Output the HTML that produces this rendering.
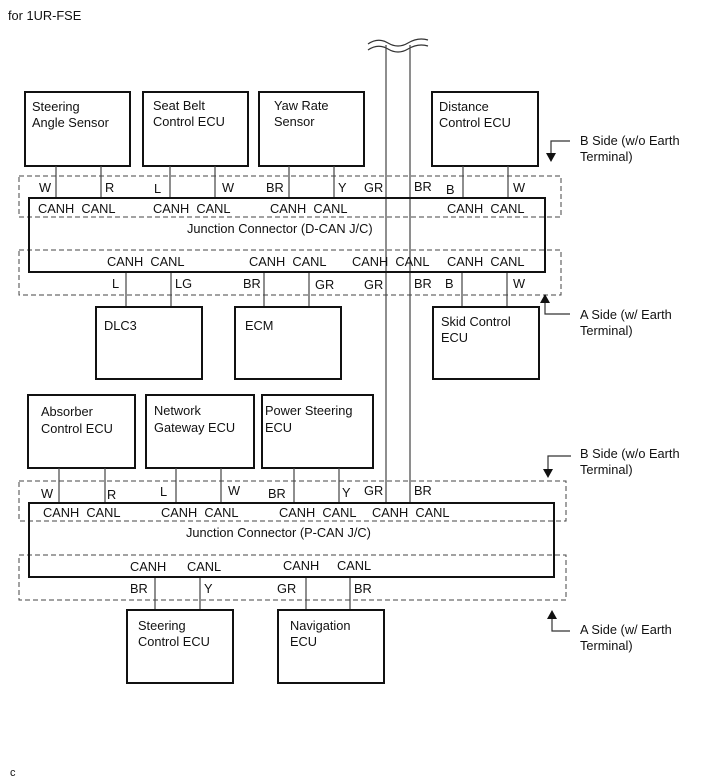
<!DOCTYPE html>
<html><head><meta charset="utf-8"><style>
body{margin:0;background:#fff}
svg{display:block}
text{font-family:"Liberation Sans",Arial,sans-serif;font-size:12.8px;fill:#111;white-space:pre}
.b{fill:none;stroke:#111;stroke-width:2}
.w{stroke:#444;stroke-width:1.2;fill:none}
.d{fill:none;stroke:#444;stroke-width:1;stroke-dasharray:5,3}
.a{fill:none;stroke:#333;stroke-width:1.2}
</style></head><body>
<svg width="713" height="782" viewBox="0 0 713 782">
<text x="8" y="20">for 1UR-FSE</text>
<text x="10" y="776" style="font-size:11px">c</text>
<path class="a" d="M368,44 q10,-7 20,-1 t20,0 t20,-3"/>
<path class="a" d="M368,50 q10,-7 20,-1 t20,0 t20,-3"/>
<line class="w" x1="386" y1="45" x2="386" y2="503"/>
<line class="w" x1="410" y1="45" x2="410" y2="503"/>
<rect class="b" x="25" y="92" width="105" height="74"/>
<text x="32" y="111">Steering</text><text x="32" y="127">Angle Sensor</text>
<rect class="b" x="143" y="92" width="105" height="74"/>
<text x="153" y="110">Seat Belt</text><text x="153" y="126">Control ECU</text>
<rect class="b" x="259" y="92" width="105" height="74"/>
<text x="274" y="110">Yaw Rate</text><text x="274" y="126">Sensor</text>
<rect class="b" x="432" y="92" width="106" height="74"/>
<text x="439" y="111">Distance</text><text x="439" y="127">Control ECU</text>
<g class="w">
<line x1="56" y1="166" x2="56" y2="198"/><line x1="101" y1="166" x2="101" y2="198"/>
<line x1="170" y1="166" x2="170" y2="198"/><line x1="215" y1="166" x2="215" y2="198"/>
<line x1="289" y1="166" x2="289" y2="198"/><line x1="334" y1="166" x2="334" y2="198"/>
<line x1="463" y1="166" x2="463" y2="198"/><line x1="508" y1="166" x2="508" y2="198"/>
<line x1="126" y1="272" x2="126" y2="307"/><line x1="171" y1="272" x2="171" y2="307"/>
<line x1="264" y1="272" x2="264" y2="307"/><line x1="309" y1="272" x2="309" y2="307"/>
<line x1="462" y1="272" x2="462" y2="307"/><line x1="507" y1="272" x2="507" y2="307"/>
</g>
<rect class="d" x="19" y="176" width="542" height="41"/>
<rect class="d" x="19" y="250" width="542" height="45"/>
<rect class="b" x="29" y="198" width="516" height="74" fill="none"/>
<text x="39" y="192">W</text><text x="105" y="192">R</text><text x="154" y="193">L</text><text x="222" y="192">W</text>
<text x="266" y="192">BR</text><text x="338" y="192">Y</text><text x="364" y="192">GR</text><text x="414" y="191">BR</text>
<text x="446" y="194">B</text><text x="513" y="192">W</text>
<text x="38" y="213">CANH  CANL</text><text x="153" y="213">CANH  CANL</text><text x="270" y="213">CANH  CANL</text><text x="447" y="213">CANH  CANL</text>
<text x="187" y="233">Junction Connector (D-CAN J/C)</text>
<text x="107" y="266">CANH  CANL</text><text x="249" y="266">CANH  CANL</text><text x="352" y="266">CANH  CANL</text><text x="447" y="266">CANH  CANL</text>
<text x="112" y="288">L</text><text x="175" y="288">LG</text><text x="243" y="288">BR</text><text x="315" y="289">GR</text>
<text x="364" y="289">GR</text><text x="414" y="288">BR</text><text x="445" y="288">B</text><text x="513" y="288">W</text>
<rect class="b" x="96" y="307" width="106" height="72"/><text x="104" y="330">DLC3</text>
<rect class="b" x="235" y="307" width="106" height="72"/><text x="245" y="330">ECM</text>
<rect class="b" x="433" y="307" width="106" height="72"/><text x="441" y="326">Skid Control</text><text x="441" y="342">ECU</text>
<path class="a" d="M570,141 H551 V154"/><polygon points="546,153 556,153 551,162" fill="#111"/>
<text x="580" y="145">B Side (w/o Earth</text><text x="580" y="161">Terminal)</text>
<path class="a" d="M570,314 H545 V302"/><polygon points="540,303 550,303 545,294" fill="#111"/>
<text x="580" y="319">A Side (w/ Earth</text><text x="580" y="335">Terminal)</text>
<rect class="b" x="28" y="395" width="107" height="73"/>
<text x="41" y="416">Absorber</text><text x="41" y="433">Control ECU</text>
<rect class="b" x="146" y="395" width="108" height="73"/>
<text x="154" y="415">Network</text><text x="154" y="432">Gateway ECU</text>
<rect class="b" x="262" y="395" width="111" height="73"/>
<text x="265" y="415">Power Steering</text><text x="265" y="432">ECU</text>
<g class="w">
<line x1="59" y1="468" x2="59" y2="503"/><line x1="105" y1="468" x2="105" y2="503"/>
<line x1="176" y1="468" x2="176" y2="503"/><line x1="221" y1="468" x2="221" y2="503"/>
<line x1="294" y1="468" x2="294" y2="503"/><line x1="339" y1="468" x2="339" y2="503"/>
<line x1="155" y1="577" x2="155" y2="610"/><line x1="200" y1="577" x2="200" y2="610"/>
<line x1="306" y1="577" x2="306" y2="610"/><line x1="350" y1="577" x2="350" y2="610"/>
</g>
<rect class="d" x="19" y="481" width="547" height="40"/>
<rect class="d" x="19" y="555" width="547" height="45"/>
<rect class="b" x="29" y="503" width="525" height="74"/>
<text x="41" y="498">W</text><text x="107" y="499">R</text><text x="160" y="496">L</text><text x="228" y="495">W</text>
<text x="268" y="498">BR</text><text x="342" y="497">Y</text><text x="364" y="495">GR</text><text x="414" y="495">BR</text>
<text x="43" y="517">CANH  CANL</text><text x="161" y="517">CANH  CANL</text><text x="279" y="517">CANH  CANL</text><text x="372" y="517">CANH  CANL</text>
<text x="186" y="537">Junction Connector (P-CAN J/C)</text>
<text x="130" y="571">CANH</text><text x="187" y="571">CANL</text><text x="283" y="570">CANH</text><text x="337" y="570">CANL</text>
<text x="130" y="593">BR</text><text x="204" y="593">Y</text><text x="277" y="593">GR</text><text x="354" y="593">BR</text>
<rect class="b" x="127" y="610" width="106" height="73"/>
<text x="138" y="630">Steering</text><text x="138" y="646">Control ECU</text>
<rect class="b" x="278" y="610" width="106" height="73"/>
<text x="290" y="630">Navigation</text><text x="290" y="646">ECU</text>
<path class="a" d="M571,456 H548 V470"/><polygon points="543,469 553,469 548,478" fill="#111"/>
<text x="580" y="458">B Side (w/o Earth</text><text x="580" y="474">Terminal)</text>
<path class="a" d="M570,631 H552 V618"/><polygon points="547,619 557,619 552,610" fill="#111"/>
<text x="580" y="634">A Side (w/ Earth</text><text x="580" y="650">Terminal)</text>
</svg>
</body></html>
